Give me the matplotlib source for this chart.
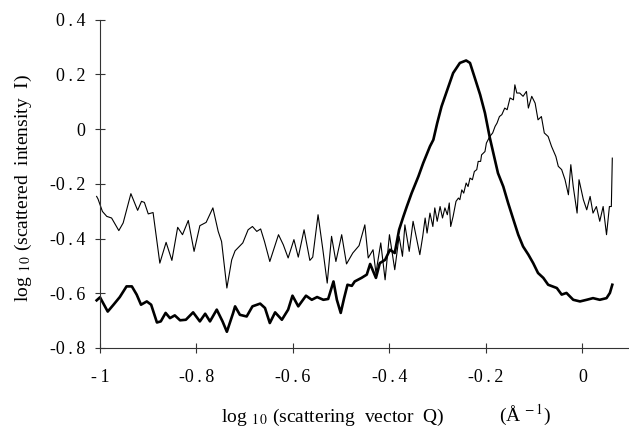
import numpy as np
import matplotlib
matplotlib.use("Agg")
import matplotlib.pyplot as plt

plt.rcParams["font.family"] = ["Liberation Serif", "DejaVu Serif"]
plt.rcParams["mathtext.fontset"] = "stix"

# thin curve
thin_x = [-1.007, -1.004, -0.995, -0.986, -0.976, -0.961, -0.952, -0.936, -0.922, -0.914,
          -0.908, -0.900, -0.890, -0.876, -0.863, -0.851, -0.839, -0.829, -0.817, -0.805,
          -0.793, -0.780, -0.766, -0.755, -0.748, -0.737, -0.727, -0.720, -0.704, -0.693,
          -0.684, -0.675, -0.667, -0.659, -0.648, -0.630, -0.620, -0.610, -0.598, -0.589,
          -0.577, -0.565, -0.559, -0.548, -0.538, -0.529, -0.520, -0.511, -0.499, -0.489,
          -0.476, -0.463, -0.451, -0.444, -0.434, -0.428, -0.418, -0.409, -0.400, -0.389,
          -0.380, -0.373, -0.368, -0.359, -0.351, -0.337,
          -0.331, -0.326, -0.322, -0.316, -0.310, -0.306, -0.301, -0.295, -0.290, -0.285,
          -0.280, -0.276, -0.273, -0.268, -0.262, -0.257, -0.254, -0.250, -0.246, -0.241,
          -0.237, -0.233, -0.228, -0.224, -0.219, -0.216, -0.211, -0.209, -0.202, -0.199,
          -0.192, -0.186, -0.181, -0.177, -0.172, -0.167, -0.161, -0.156, -0.150, -0.143,
          -0.140, -0.136,
          -0.130, -0.123, -0.116, -0.112, -0.105, -0.098, -0.092, -0.085, -0.079, -0.071,
          -0.064, -0.055, -0.050, -0.043, -0.036, -0.029, -0.024, -0.019, -0.011, -0.007,
          0.002, 0.009, 0.016, 0.022, 0.029, 0.036, 0.043, 0.050, 0.056, 0.060, 0.062]
thin_y = [-0.246, -0.256, -0.301, -0.319, -0.325, -0.371, -0.343, -0.236, -0.297, -0.264,
          -0.268, -0.310, -0.305, -0.490, -0.414, -0.480, -0.359, -0.386, -0.334, -0.447,
          -0.353, -0.341, -0.288, -0.374, -0.411, -0.581, -0.478, -0.445, -0.416, -0.368,
          -0.356, -0.374, -0.365, -0.411, -0.484, -0.386, -0.423, -0.471, -0.404, -0.468,
          -0.368, -0.480, -0.468, -0.313, -0.441, -0.563, -0.392, -0.484, -0.386, -0.493,
          -0.453, -0.426, -0.350, -0.471, -0.441, -0.526, -0.416, -0.551, -0.386, -0.514,
          -0.392, -0.465, -0.350, -0.447, -0.337, -0.459,
          -0.392, -0.325, -0.380, -0.307, -0.356, -0.288, -0.337, -0.283, -0.325, -0.288,
          -0.313, -0.270, -0.356, -0.319, -0.264, -0.252, -0.258, -0.222, -0.234, -0.197,
          -0.210, -0.179, -0.185, -0.155, -0.148, -0.118, -0.118, -0.094, -0.082, -0.051,
          -0.027, -0.014, 0.010, 0.022, 0.046, 0.053, 0.077, 0.071, 0.114, 0.107,
          0.162, 0.132,
          0.132, 0.120, 0.138, 0.077, 0.120, 0.095, 0.034, 0.046, -0.014, -0.027,
          -0.063, -0.100, -0.136, -0.148, -0.185, -0.240, -0.130, -0.210, -0.307, -0.185,
          -0.258, -0.295, -0.246, -0.307, -0.283, -0.337, -0.283, -0.386, -0.283, -0.283, -0.106]

# thick curve
thick_x = [-1.007, -1.000, -0.984, -0.972, -0.959, -0.945, -0.934, -0.924, -0.915, -0.903,
           -0.894, -0.882, -0.874, -0.864, -0.855, -0.845, -0.834, -0.822, -0.807, -0.793,
           -0.782, -0.772, -0.758, -0.746, -0.737, -0.724, -0.720, -0.710, -0.696, -0.684,
           -0.668, -0.658, -0.648, -0.637, -0.623, -0.610, -0.601, -0.589, -0.573, -0.561,
           -0.550, -0.537, -0.527, -0.516, -0.509, -0.501, -0.494, -0.487, -0.478, -0.472,
           -0.458, -0.447, -0.440, -0.428, -0.420, -0.409, -0.399, -0.389, -0.380, -0.371,
           -0.364, -0.354, -0.340, -0.330, -0.316, -0.309, -0.301, -0.292, -0.280, -0.268,
           -0.254, -0.241, -0.233, -0.223, -0.212, -0.202, -0.192, -0.183, -0.175, -0.164,
           -0.154, -0.143, -0.133, -0.123, -0.112, -0.102, -0.092, -0.081, -0.071, -0.053,
           -0.043, -0.033, -0.019, -0.005, 0.009, 0.022, 0.036, 0.050, 0.057, 0.062]
thick_y = [-0.626, -0.615, -0.667, -0.642, -0.614, -0.575, -0.575, -0.605, -0.642, -0.630,
           -0.642, -0.707, -0.703, -0.672, -0.691, -0.681, -0.699, -0.697, -0.670, -0.703,
           -0.675, -0.703, -0.660, -0.703, -0.741, -0.672, -0.648, -0.679, -0.685, -0.648,
           -0.638, -0.654, -0.709, -0.670, -0.697, -0.660, -0.609, -0.648, -0.609, -0.624,
           -0.614, -0.624, -0.621, -0.557, -0.624, -0.672, -0.618, -0.569, -0.573, -0.557,
           -0.544, -0.532, -0.493, -0.544, -0.490, -0.478, -0.441, -0.453, -0.368, -0.319,
           -0.283, -0.234, -0.173, -0.124, -0.063, -0.039, 0.022, 0.083, 0.144, 0.205,
           0.242, 0.251, 0.242, 0.187, 0.126, 0.059, -0.031, -0.100, -0.161, -0.210,
           -0.270, -0.331, -0.386, -0.429, -0.459, -0.490, -0.526, -0.544, -0.569, -0.581,
           -0.605, -0.599, -0.624, -0.630, -0.624, -0.618, -0.624, -0.618, -0.599, -0.569]

x_ticks = [-1, -0.8, -0.6, -0.4, -0.2, 0]
x_ticklabels = ["-\u20091", "-0\u2009.\u20098", "-0\u2009.\u20096", "-0\u2009.\u20094",
                "-0\u2009.\u20092", "0"]
y_ticks = [-0.8, -0.6, -0.4, -0.2, 0, 0.2, 0.4]
y_ticklabels = ["-0\u2009.\u20098", "-0\u2009.\u20096", "-0\u2009.\u20094", "-0\u2009.\u20092",
                "0", "0\u2009.\u20092", "0\u2009.\u20094"]

fig = plt.figure(figsize=(6.29, 4.29), dpi=100)
ax = fig.add_axes([0.159, 0.189, 0.839, 0.765])

ax.plot(thin_x, thin_y, color="black", lw=0.8, clip_on=False)
ax.plot(thick_x, thick_y, color="black", lw=1.9, clip_on=False)

ax.set_xlim(-1, 0.094)
ax.set_ylim(-0.8, 0.4)
for s in ["top", "right"]:
    ax.spines[s].set_visible(False)
for s in ["left", "bottom"]:
    ax.spines[s].set_color("#333333")
    ax.spines[s].set_linewidth(0.8)

ax.set_xticks(x_ticks)
ax.set_xticklabels(x_ticklabels)
ax.set_yticks(y_ticks)
ax.set_yticklabels(y_ticklabels)
ax.tick_params(axis="both", direction="inout", length=7, width=0.8,
               color="#333333", labelsize=13)
ax.tick_params(axis="x", pad=12)
ax.tick_params(axis="y", pad=7)

fig.text(23 / 629, 1 - 188 / 429, "log $_{1\\,0}$ (scattered  intensity  I)",
         rotation=90, ha="center", va="center", fontsize=14)
fig.text(333 / 629, 1 - 417 / 429, "log $_{1\\,0}$ (scattering  vector  Q)",
         ha="center", va="center", fontsize=14)
fig.text(525 / 629, 1 - 415 / 429, "(Å $^{-\\,1}$)",
         ha="center", va="center", fontsize=14)

fig.savefig("out.png", dpi=100)
